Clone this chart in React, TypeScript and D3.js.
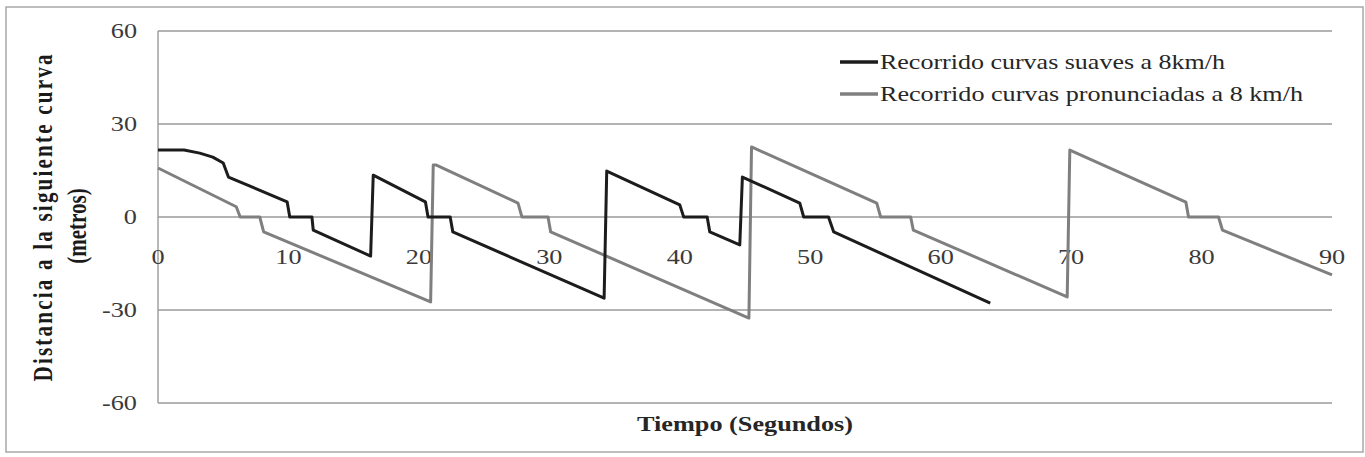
import React from "react";
import * as d3 from "d3";

const suavesT = [0, 2.0, 3.2, 4.2, 5.0, 5.4, 9.9, 10.1, 11.8, 11.9, 16.3, 16.5, 20.5, 20.7, 22.4, 22.6, 34.2, 34.4, 40.0, 40.3, 42.1, 42.3, 44.6, 44.8, 49.2, 49.5, 51.4, 51.8, 63.8];
const suavesY = [21.6, 21.6, 20.6, 19.3, 17.4, 12.9, 4.9, 0, 0, -4.2, -12.6, 13.5, 4.9, 0, 0, -4.8, -26.2, 14.8, 3.9, 0, 0, -4.8, -9.0, 12.9, 4.5, 0, 0, -4.8, -27.8];

const pronT = [0, 6.0, 6.3, 7.8, 8.1, 20.9, 21.1, 21.3, 27.6, 27.9, 29.9, 30.1, 45.3, 45.5, 55.1, 55.4, 57.7, 57.9, 69.7, 69.9, 78.8, 79.0, 81.3, 81.6, 90.0];
const pronY = [15.8, 3.3, 0, 0, -4.8, -27.4, 16.8, 16.8, 4.5, 0, 0, -4.8, -32.6, 22.6, 4.5, 0, 0, -4.2, -25.8, 21.6, 4.8, 0, 0, -4.2, -18.7];

const yTicks = [60, 30, 0, -30, -60];
const xTicks = [0, 10, 20, 30, 40, 50, 60, 70, 80, 90];

const seriesNames = ["Recorrido curvas suaves a 8km/h", "Recorrido curvas pronunciadas a 8 km/h"];
const seriesColors = ["#1c1c1c", "#7f7f7f"];
const xTitle = "Tiempo (Segundos)";
const yTitle1 = "Distancia a la siguiente curva";
const yTitle2 = "(metros)";

const W = 1365;
const H = 457;
const FONT = "'Liberation Serif', 'Times New Roman', serif";
const SX = 1.25;

export default function App() {
  const x = d3.scaleLinear().domain([0, 90]).range([158, 1332]);
  const y = d3.scaleLinear().domain([-60, 60]).range([403, 31]);
  const line = d3
    .line<[number, number]>()
    .x((d) => x(d[0]))
    .y((d) => y(d[1]));
  const s1 = suavesT.map((t, i) => [t, suavesY[i]] as [number, number]);
  const s2 = pronT.map((t, i) => [t, pronY[i]] as [number, number]);

  return (
    <svg
      width={W}
      height={H}
      style={{ position: "absolute", left: 0, top: 0, background: "#fff" }}
      fontFamily={FONT}
    >
      <rect x={0} y={0} width={W} height={H} fill="#fff" />
      <rect x={6} y={7} width={1357} height={445} fill="none" stroke="#a8a8a8" strokeWidth={1.5} />
      {yTicks.map((t) => (
        <line key={"g" + t} x1={x(0)} x2={x(90)} y1={y(t)} y2={y(t)} stroke="#9a9a9a" strokeWidth={1.4} />
      ))}
      <line x1={x(0)} x2={x(0)} y1={y(60)} y2={y(-60)} stroke="#9a9a9a" strokeWidth={1.4} />
      {yTicks.map((t) => (
        <text
          key={"yt" + t}
          transform={`translate(137,${y(t) + 7}) scale(${SX},1)`}
          textAnchor="end"
          fontSize={21}
          fill="#3a3a3a"
        >
          {t}
        </text>
      ))}
      {xTicks.map((t) => (
        <text
          key={"xt" + t}
          transform={`translate(${x(t)},${y(0) + 47}) scale(${SX},1)`}
          textAnchor="middle"
          fontSize={21}
          fill="#3a3a3a"
        >
          {t}
        </text>
      ))}
      <path d={line(s2) || ""} fill="none" stroke={seriesColors[1]} strokeWidth={3} strokeLinejoin="round" />
      <path d={line(s1) || ""} fill="none" stroke={seriesColors[0]} strokeWidth={3} strokeLinejoin="round" />
      {seriesNames.map((n, i) => (
        <g key={n}>
          <line x1={840} x2={878} y1={62 + i * 32} y2={62 + i * 32} stroke={seriesColors[i]} strokeWidth={3.5} />
          <text
            x={880}
            y={69 + i * 32}
            fontSize={21}
            fill="#262626"
            textLength={i === 0 ? 345 : 423}
            lengthAdjust="spacingAndGlyphs"
          >
            {n}
          </text>
        </g>
      ))}
      <text
        x={745}
        y={431}
        textAnchor="middle"
        fontSize={21}
        fontWeight="bold"
        fill="#262626"
        textLength={216}
        lengthAdjust="spacingAndGlyphs"
      >
        {xTitle}
      </text>
      <text
        transform={`translate(52,218) scale(${SX},1) rotate(-90)`}
        textAnchor="middle"
        fontSize={21}
        fontWeight="bold"
        fill="#1a1a1a"
        textLength={327}
        lengthAdjust="spacing"
      >
        {yTitle1}
      </text>
      <text
        transform={`translate(86,226) scale(${SX},1) rotate(-90)`}
        textAnchor="middle"
        fontSize={21}
        fontWeight="bold"
        fill="#1a1a1a"
      >
        {yTitle2}
      </text>
    </svg>
  );
}
